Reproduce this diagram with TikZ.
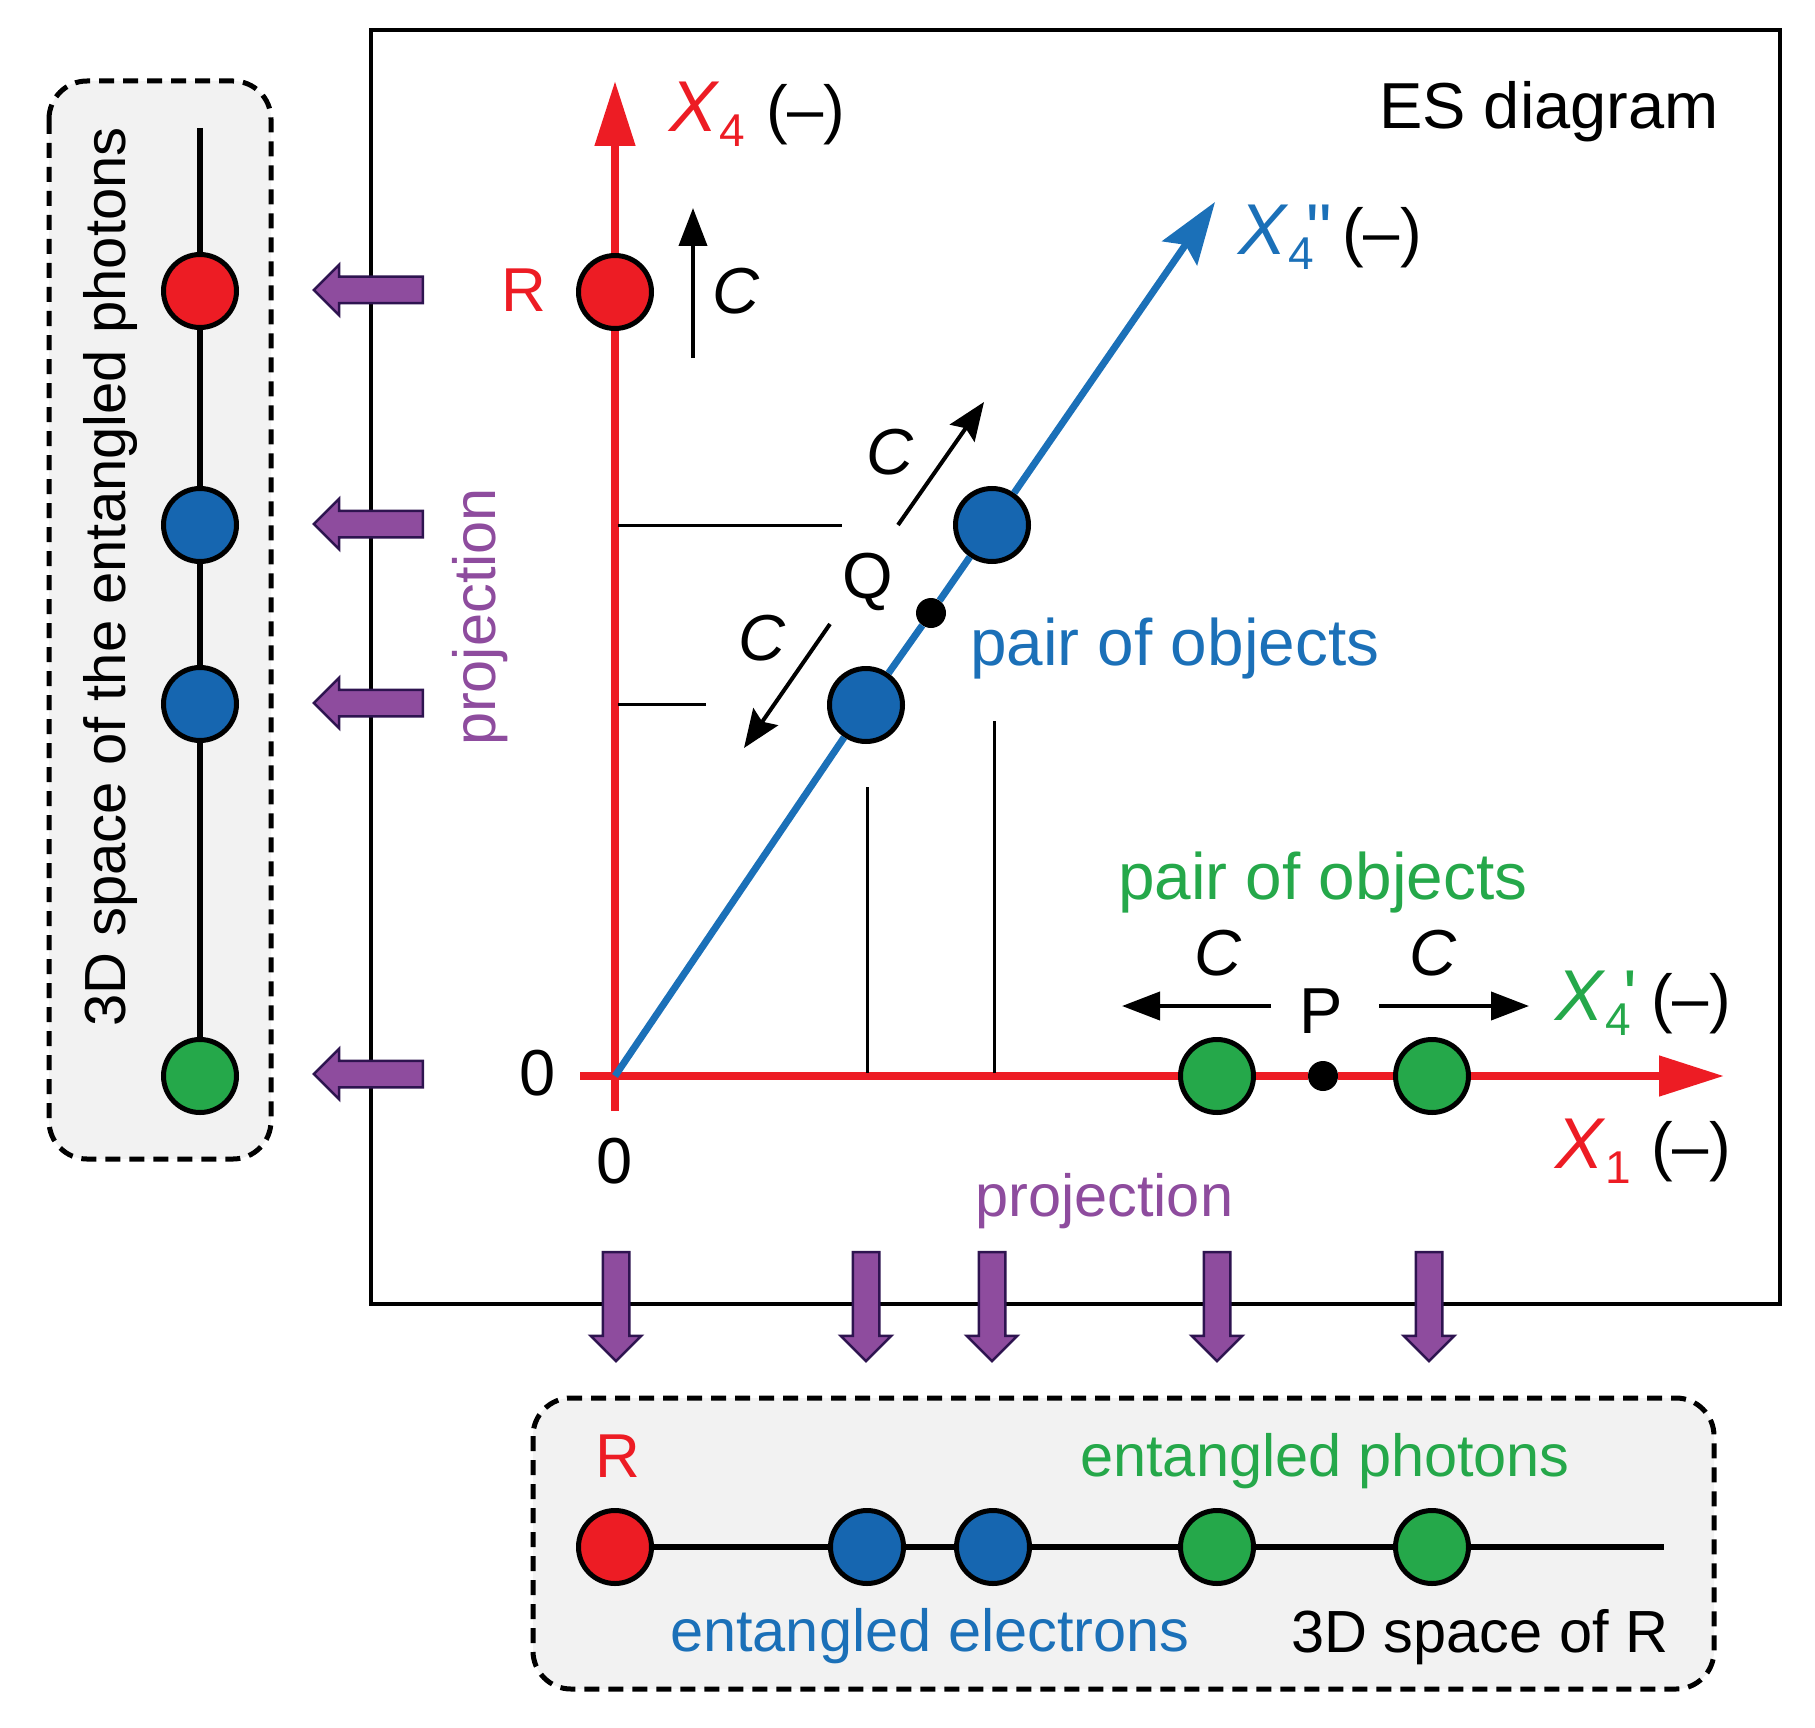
\documentclass[tikz,border=0pt]{standalone}
\usepackage{fontspec}
\setmainfont{Liberation Sans}
\newfontfamily\primefont{Liberation Sans}
\usetikzlibrary{arrows.meta,shapes.arrows}
\definecolor{esred}{HTML}{ED1C24}
\definecolor{esblue}{HTML}{1B70B8}
\definecolor{esball}{HTML}{1666B0}
\definecolor{esgreen}{HTML}{25A84A}
\definecolor{espurple}{HTML}{8E4C9E}
\definecolor{esedge}{HTML}{2E1450}
\definecolor{esgrey}{HTML}{F2F2F2}
\newcommand{\bigsize}{\fontsize{65}{70}\selectfont}
\newcommand{\pairsize}{\fontsize{65.7}{70}\selectfont}
\newcommand{\midsize}{\fontsize{59.5}{64}\selectfont}
\newcommand{\bigx}{{\fontsize{72}{72}\selectfont\textit{X}}}
\newcommand{\subfour}[1]{\rlap{\raisebox{-15pt}{\fontsize{46}{46}\selectfont #1}}}
\newcommand{\dblmark}{{\primefont\fontsize{72}{72}\selectfont\char"22}}
\newcommand{\sglmark}{{\primefont\fontsize{72}{72}\selectfont\char"27}}
\tikzset{
  ball/.style={circle,draw=black,line width=5pt,minimum size=73pt},
  redball/.style={ball,fill=esred},
  blueball/.style={ball,fill=esball},
  greenball/.style={ball,fill=esgreen},
  middot/.style={circle,fill=black,minimum size=30pt},
  panel/.style={draw=black,fill=esgrey,line width=5pt,dash pattern=on 15pt off 9pt,rounded corners=38pt},
  axis/.style={esred,line width=8pt},
  slant/.style={esblue,line width=7pt},
  guide/.style={black,line width=3pt},
  speed/.style={black,line width=4pt,-{Stealth[length=38pt,width=28pt,inset=0pt]}},
  speedd/.style={black,line width=4pt,-{Stealth[length=38pt,width=30pt,inset=6pt]}},
  redtip/.style={-{Triangle[length=65pt,width=39pt]}},
  bluetip/.style={-{Stealth[length=62pt,width=42pt,inset=10pt]}},
  spine/.style={black,line width=6pt},
  projarrow/.style={single arrow,fill=espurple,draw=esedge,line width=2.5pt,inner ysep=12pt,minimum width=48pt,
    minimum height=109pt,single arrow head extend=12pt,single arrow head indent=0pt},
  txt/.style={anchor=base west,font=\bigsize},
  mtxt/.style={anchor=base west,font=\midsize},
  ptxt/.style={anchor=base west,font=\pairsize},
  ctxt/.style={anchor=base,font=\bigsize}
}
\begin{document}
\begin{tikzpicture}[x=1pt,y=-1pt]
\tikzstyle{every node}+=[inner sep=0pt]
\useasboundingbox (0,0) rectangle (1815,1728);
\draw [black,line width=4.5pt] (371,30) rectangle (1780,1304);
\draw [panel] (49,81) rectangle (271,1159);
\draw [panel] (533,1398) rectangle (1714,1689);
\coordinate (orig) at (615,1076);
\coordinate (ytip) at (615,81);
\coordinate (ybot) at (615,1111);
\coordinate (xleft) at (580,1076);
\coordinate (xtip) at (1724,1076);
\coordinate (stip) at (1215,202);
\node [redball] (R) at (615,292) {};
\node [blueball] (Qa) at (866,705) {};
\node [blueball] (Qb) at (992,525) {};
\node [middot] (Q) at (931,613) {};
\node [greenball] (Pa) at (1217,1076) {};
\node [greenball] (Pb) at (1432,1076) {};
\node [middot] (P) at (1323,1076) {};
\node [redball] (lR) at (200,291) {};
\node [blueball] (lQb) at (200,525) {};
\node [blueball] (lQa) at (200,704) {};
\node [greenball] (lP) at (200,1076) {};
\coordinate (ltop) at (200,128);
\node [redball] (bR) at (615,1547) {};
\node [blueball] (bQa) at (867,1547) {};
\node [blueball] (bQb) at (993,1547) {};
\node [greenball] (bPa) at (1217,1547) {};
\node [greenball] (bPb) at (1432,1547) {};
\coordinate (bend) at (1664,1547);
\draw [axis] (ybot) -- (R);
\draw [axis,redtip] (R) -- (ytip);
\draw [axis] (xleft) -- (Pa);
\draw [axis] (Pa) -- (P);
\draw [axis] (P) -- (Pb);
\draw [axis,redtip] (Pb) -- (xtip);
\draw [slant] (orig) -- (Qa);
\draw [slant] (Qa) -- (Q);
\draw [slant] (Q) -- (Qb);
\draw [slant,bluetip] (Qb) -- (stip);
\draw [spine] (ltop) -- (lR);
\draw [spine] (lR) -- (lQb);
\draw [spine] (lQb) -- (lQa);
\draw [spine] (lQa) -- (lP);
\draw [spine] (bR) -- (bQa);
\draw [spine] (bQa) -- (bQb);
\draw [spine] (bQb) -- (bPa);
\draw [spine] (bPa) -- (bPb);
\draw [spine] (bPb) -- (bend);
\coordinate (gaa) at (618,525);
\coordinate (gab) at (842,525);
\coordinate (gba) at (618,704);
\coordinate (gbb) at (706,704);
\coordinate (gca) at (867,1073);
\coordinate (gcb) at (867,787);
\coordinate (gda) at (994,1073);
\coordinate (gdb) at (994,721);
\draw [guide] (gaa) -- (gab);
\draw [guide] (gba) -- (gbb);
\draw [guide] (gca) -- (gcb);
\draw [guide] (gda) -- (gdb);
\coordinate (vca) at (693,358);
\coordinate (vcb) at (693,208);
\coordinate (uca) at (898,525);
\coordinate (ucb) at (984,402);
\coordinate (dca) at (830,624);
\coordinate (dcb) at (744,748);
\coordinate (hla) at (1271,1006);
\coordinate (hlb) at (1122,1006);
\coordinate (hra) at (1379,1006);
\coordinate (hrb) at (1529,1006);
\draw [speed] (vca) -- (vcb);
\draw [speedd] (uca) -- (ucb);
\draw [speedd] (dca) -- (dcb);
\draw [speed] (hla) -- (hlb);
\draw [speed] (hra) -- (hrb);
\node [projarrow,rotate=180] (pla) at (375,290) {};
\node [projarrow,rotate=180] (plb) at (375,524) {};
\node [projarrow,rotate=180] (plc) at (375,703) {};
\node [projarrow,rotate=180] (pld) at (375,1074) {};
\node [projarrow,rotate=-90] (pda) at (616,1300) {};
\node [projarrow,rotate=-90] (pdb) at (866,1300) {};
\node [projarrow,rotate=-90] (pdc) at (992,1300) {};
\node [projarrow,rotate=-90] (pdd) at (1217,1300) {};
\node [projarrow,rotate=-90] (pde) at (1429,1300) {};
\node [txt,anchor=base east] (title) at (1719,129) {ES diagram};
\node [txt,esred] (xfour) at (669,132) {\bigx\subfour{4}};
\node [txt] (xfourunit) at (766,132) {(--)};
\node [txt,esblue] (xdbl) at (1238,255) {\bigx\subfour{4}\kern 18pt\dblmark};
\node [txt] (xdblunit) at (1342,255) {(--)};
\node [txt,esgreen] (xsgl) at (1555,1020) {\bigx\subfour{4}\kern 18pt\sglmark};
\node [txt] (xsglunit) at (1651,1020) {(--)};
\node [txt,esred] (xone) at (1555,1168) {\bigx\subfour{1}};
\node [txt] (xoneunit) at (1651,1168) {(--)};
\node [ctxt,esred,font=\fontsize{62}{66}\selectfont] (Rlab) at (524,312) {R};
\node [ctxt,font=\itshape\bigsize] (cv) at (736,313) {C};
\node [ctxt,font=\itshape\bigsize] (cu) at (890,474) {C};
\node [ctxt,font=\itshape\bigsize] (cd) at (762,660) {C};
\node [ctxt,font=\itshape\bigsize] (cl) at (1218,975) {C};
\node [ctxt,font=\itshape\bigsize] (cr) at (1433,975) {C};
\node [ctxt] (Qlab) at (868,598) {Q};
\node [ctxt] (Plab) at (1321,1033) {P};
\node [ctxt] (zeroa) at (538,1095) {0};
\node [ctxt] (zerob) at (615,1183) {0};
\node [ptxt,esblue] (pairb) at (970,665) {pair of objects};
\node [ptxt,esgreen] (pairg) at (1118,899) {pair of objects};
\node [mtxt,espurple] (projb) at (975,1216) {projection};
\node [anchor=base,font=\midsize,espurple,rotate=90] (proja) at (495,617) {projection};
\node [anchor=base,font=\fontsize{58}{62}\selectfont,rotate=90] (ltext) at (125,577) {3D space of the entangled photons};
\node [ctxt,esred,font=\fontsize{62}{66}\selectfont] (bRlab) at (618,1477) {R};
\node [mtxt,esgreen] (bphot) at (1080,1476) {entangled photons};
\node [mtxt,esblue] (belec) at (670,1651) {entangled electrons};
\node [mtxt] (bspace) at (1291,1652) {3D space of R};
\end{tikzpicture}
\end{document}
